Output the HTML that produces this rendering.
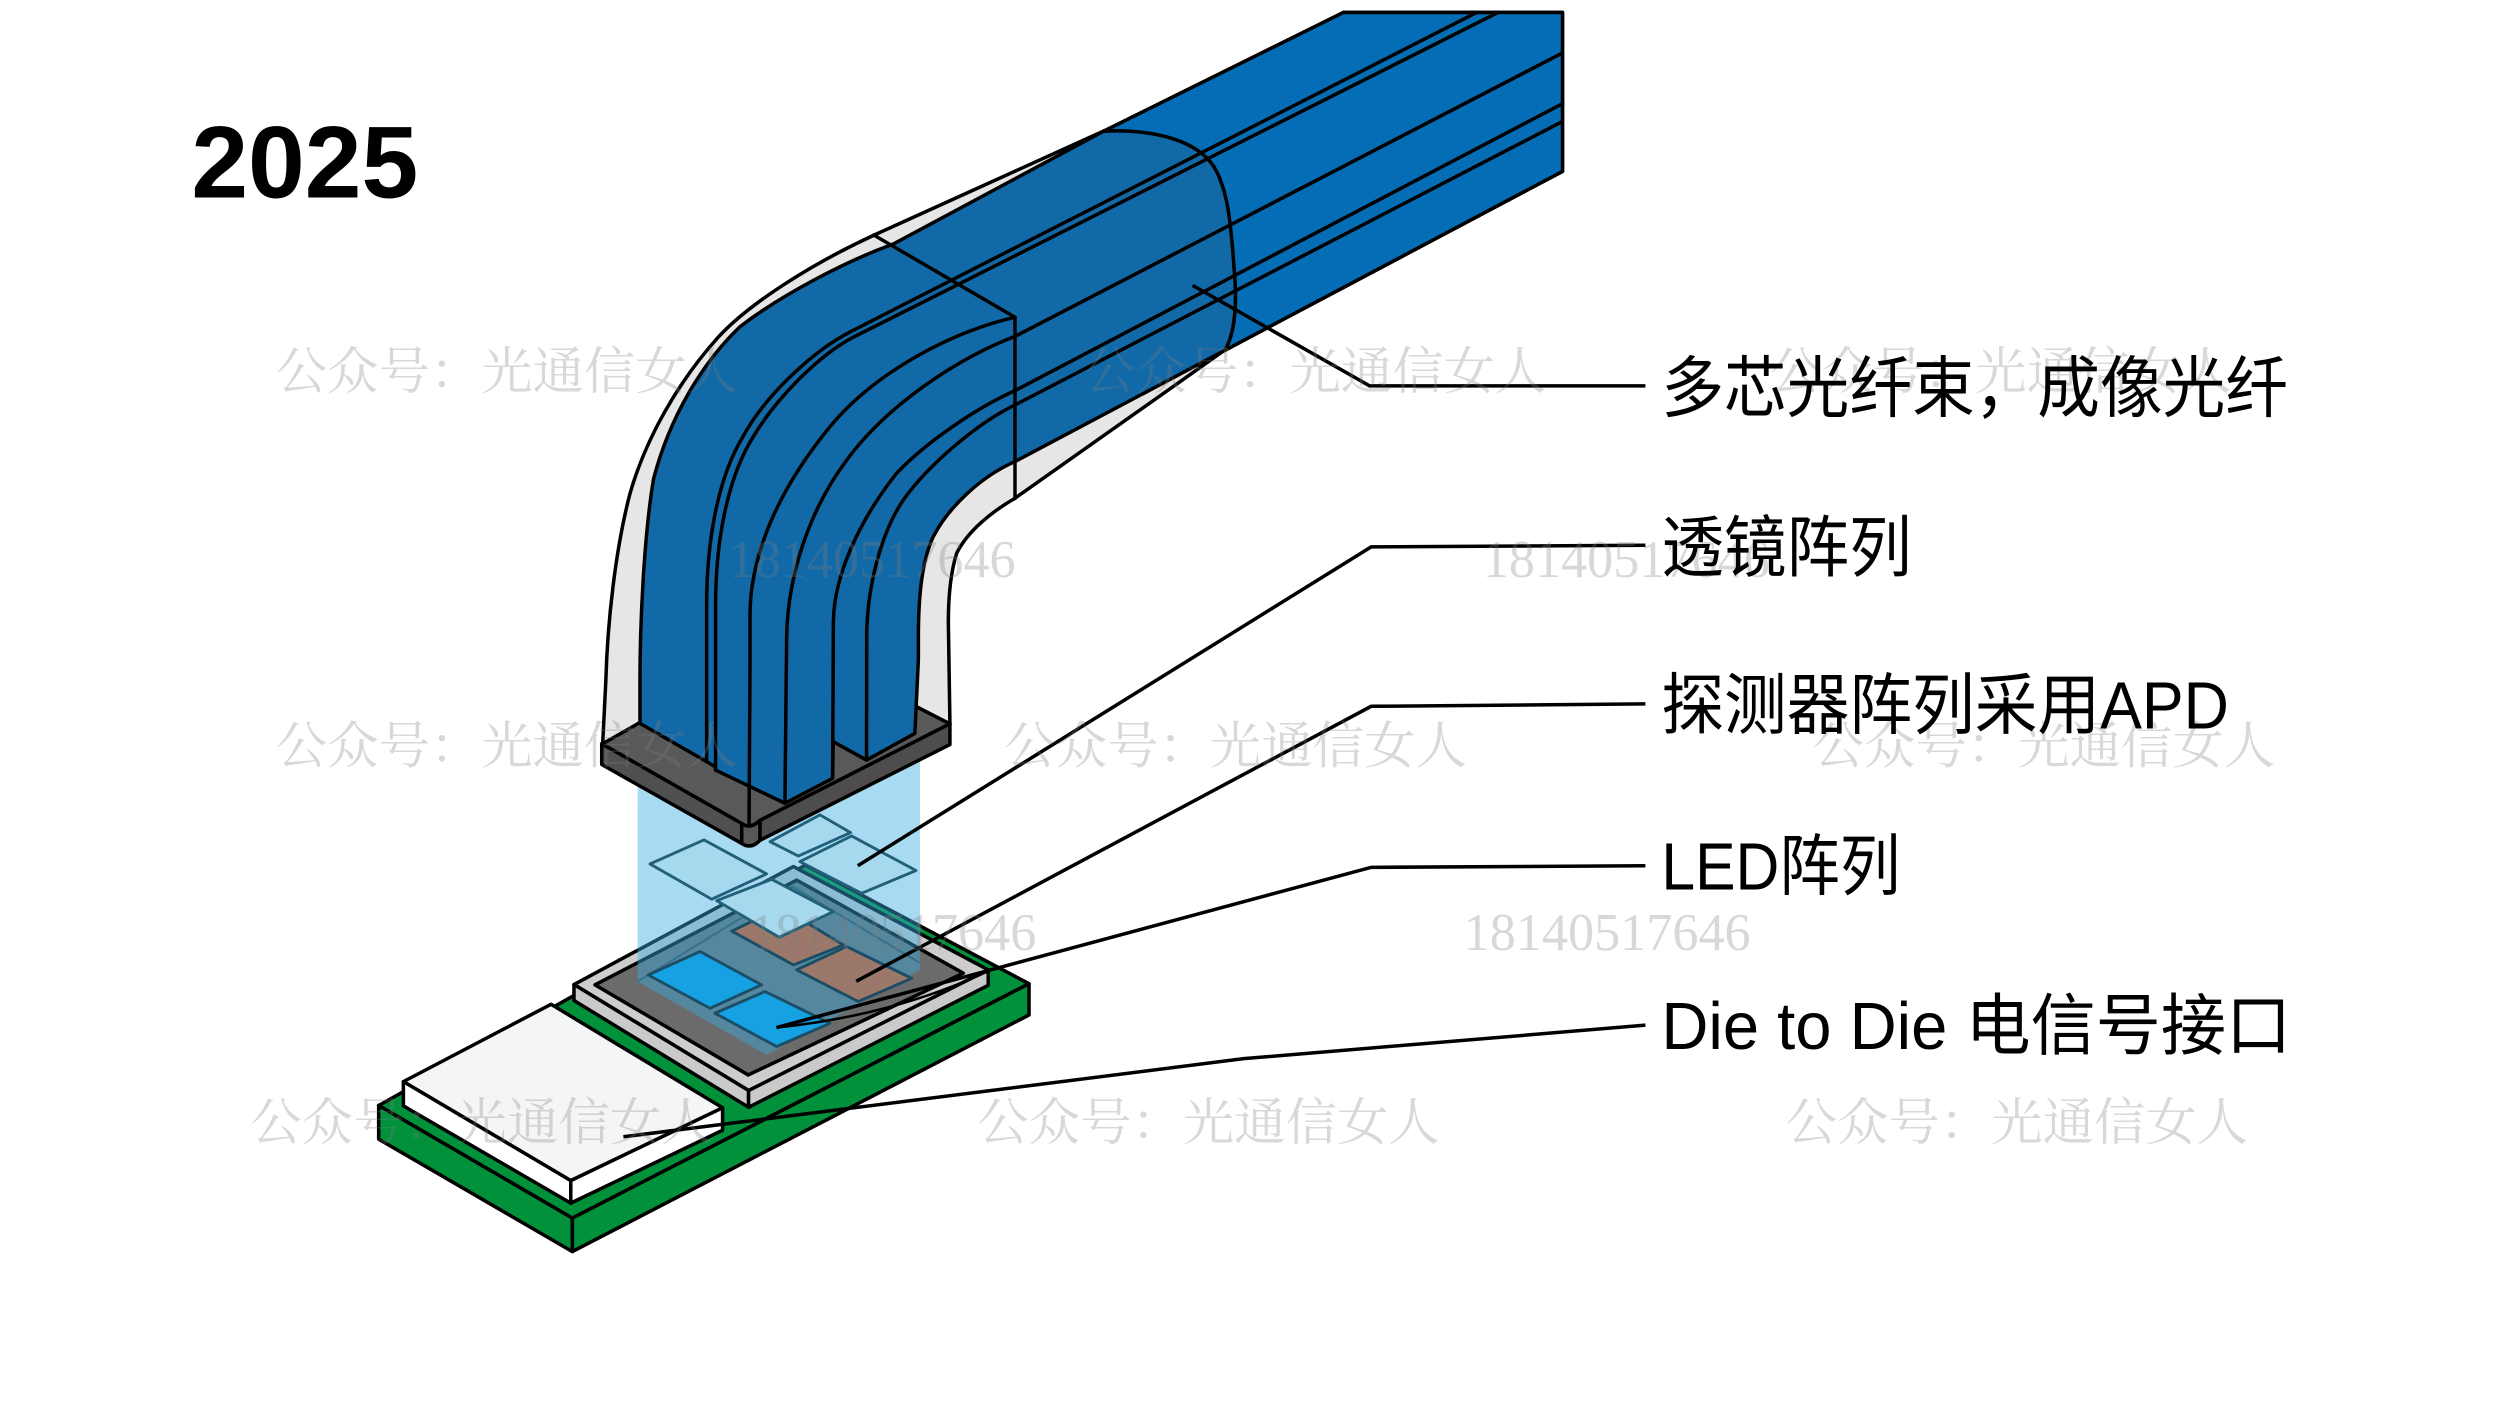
<!DOCTYPE html>
<html><head><meta charset="utf-8">
<style>
html,body{margin:0;padding:0;background:#fff;}
svg{display:block;}
</style></head>
<body>
<svg xmlns="http://www.w3.org/2000/svg" width="2500" height="1406" viewBox="0 0 1568 881.85" preserveAspectRatio="none">
<rect x="0" y="0" width="1568" height="882" fill="#fff"/>

<g stroke="#000" stroke-width="2.2" stroke-linejoin="round">
 <!-- green board -->
 <polygon fill="#00913a" points="237.5,693.4 505,542.6 645.4,617 359,764"/>
 <polygon fill="#00913a" points="237.5,693.4 359,764 359,785 237.5,714.5"/>
 <polygon fill="#00913a" points="359,764 645.4,617 645.4,636.6 359,785"/>
 <!-- white block -->
 <polygon fill="#f4f6f5" points="253,678.4 345.6,629.9 453.2,694.8 358,740.5"/>
 <polygon fill="#ffffff" points="253,678.4 358,740.5 358,754.6 253,693.6"/>
 <polygon fill="#ffffff" points="358,740.5 453.2,694.8 453.2,708.9 358,754.6"/>
 <!-- chip frame -->
 <polygon fill="#cccdcc" points="360,617.5 497.6,543.5 619.8,608.3 469.5,684"/>
 <polygon fill="#c9cac9" points="360,617.5 469.5,684 469.5,694.5 360,627.5"/>
 <polygon fill="#c9cac9" points="469.5,684 619.8,608.3 619.8,618 469.5,694.5"/>
 <polygon fill="#6b6b6b" points="373.2,617.7 499.7,552 604.2,610.4 469.3,674.2"/>
</g>

<!-- light column -->
<polygon fill="rgb(57,171,225)" fill-opacity="0.44" points="400,470 577,470 577,608.3 480.8,661.6 399.8,615.7"/>
<path d="M399.8,615.7 L497,556 L577,604" fill="none" stroke="#2a6a86" stroke-width="1.3" stroke-opacity="0.7"/>

<!-- LED / APD squares -->
<g stroke="#1b4d66" stroke-width="1.8" stroke-linejoin="round">
 <polygon fill="#9b7869" points="459,584 490,569 529,592.7 497.6,605.2"/>
 <polygon fill="#9b7869" points="499.7,608.3 531,593.7 571.8,613.6 538.3,628.2"/>
 <polygon fill="#16a2e2" points="406.6,611.5 439,596.8 477.7,617.7 445.3,632.4"/>
 <polygon fill="#16a2e2" points="448.4,635.5 479.8,621.9 520.6,641.8 487.1,656.4"/>
</g>
<!-- lenses -->
<g stroke="#21607a" stroke-width="1.8" stroke-linejoin="round" fill="#a6d8ee">
 <polygon points="483,527.9 514.3,511.1 533.5,522.2 500.7,536.9"/>
 <polygon points="407.7,541.9 441.5,526.8 480.8,548.1 446.4,564"/>
 <polygon points="501.7,540.4 534.1,524.3 574.5,546 540.4,560.3"/>
 <polygon points="449.5,564.9 484,551.5 522.6,571.8 488.8,587.9"/>
</g>

<!-- dark fiber block -->
<g stroke="#000" stroke-width="2.2" stroke-linejoin="round">
 <path fill="#595959" d="M377.4,466.5 L492.5,401 L595.8,454 L476.7,514.5 Q470.5,520.5 465.2,516.5 Z"/>
 <path fill="#505050" d="M377.4,466.5 L465.2,516.5 L465.2,529 L377.4,479.5 Z"/>
 <path fill="#575757" d="M465.2,516.5 Q470.5,520.5 476.7,514.5 L476.7,527 Q471,533 465.2,529 Z"/>
 <path fill="#4d4d4d" d="M476.7,514.5 L595.8,454 L595.8,467 L476.7,527 Z"/>
</g>

<!-- jacket -->
<path fill="#e6e6e6" stroke="#000" stroke-width="2.2" stroke-linejoin="round"
 d="M692.6,82 L549.2,147 C510,165 470,190 450,212 C425,240 405,275 395,310 C386,345 381,390 380,426.5 L378,466.5 L492.5,401 L595.8,454 L594.8,390 C594.8,375 596,360 600,347 C607,333 622,321 636.6,312.5 L768.3,219.5 C775,208 776,190 774,168 C772,140 770,118 761,104 C750,88 725,82 699,82 Z"/>

<!-- blue bundle -->
<path fill="#1269a8" stroke="#000" stroke-width="2.2" stroke-linejoin="round"
 d="M842.6,7.8 L980,7.8 L980,107.5 L636.6,289.5 C615,299 595,318 585.4,336.5 C578,352 576,375 576,400 L576,414 L573.8,460 L543.5,476.7 L522.6,465.2 L522.2,488.2 L492.3,503.8 L448.8,483 L448.8,481 L443.2,477.7 L401.4,453.7 L401.4,426.5 C401.4,390 404,335 410,300 C420,262 440,228 464,205 C490,185 530,164 560.4,153 L692,82.4 Z"/>
<!-- straight part -->
<path fill="#046db5" stroke="#000" stroke-width="2.2" stroke-linejoin="round"
 d="M842.6,7.8 L980,7.8 L980,107.5 L768.3,219.7 C775,208 776,190 774,168 C772,140 770,118 761,104 C750,88 725,82 699,82 L692,82.4 Z"/>

<!-- fiber lines -->
<g fill="none" stroke="#000" stroke-width="2.2" stroke-linejoin="round" stroke-linecap="round">
 <path d="M548,147.4 L636.6,199 L636.6,312.7"/>
 <path d="M926.2,7.8 L533.5,208 C510,220 480,248 466,273.8 C450,300 443.2,340 443.2,380 L443.2,477.7"/>
 <path d="M939.6,7.8 L535.2,211.5 C515,222 488,248 472.5,273.8 C456,300 448.8,340 448.8,380 L448.8,483"/>
 <path d="M636.6,199 C600,207 550,232 520.6,267.6 C490,305 471,345 470.4,384.6 L470.4,414 L469.8,518"/>
 <path d="M980,33.2 L636.6,211 C600,225 555,255 530,290 C508,320 494,360 493.4,400 L492.3,503.8"/>
 <path d="M980,65 L636.6,245 C612,256 580,278 562.4,296.8 C540,325 523,360 522.7,390 L522.2,488"/>
 <path d="M980,76.2 L636.6,254 C612,266 582,292 566.6,313.5 C552,335 543.6,370 543.6,400 L543.5,476.7"/>
</g>

<!-- leader lines -->
<g fill="none" stroke="#000" stroke-width="2.2" stroke-linejoin="miter">
 <path d="M748,179 L859,242 L1032,242"/>
 <path d="M538,543 L860,343 L1032,342"/>
 <path d="M537,615.5 L860,443 L1032,441.5"/>
 <path d="M487,644.5 L860,544 L1032,543"/>
 <path d="M487,644.5 Q560,637 620,609" stroke-width="1.6"/>
 <path d="M391,713 L780,664 L1032,643"/>
</g>

<!-- watermarks -->
<g fill="#7f7f7f" fill-opacity="0.3" font-family="'Liberation Serif','Noto Serif CJK SC',serif" font-size="32">
 <text x="173" y="244" textLength="290" lengthAdjust="spacingAndGlyphs">公众号：光通信女人</text>
 <text x="680" y="244" textLength="290" lengthAdjust="spacingAndGlyphs">公众号：光通信女人</text>
 <text x="1110" y="244" textLength="290" lengthAdjust="spacingAndGlyphs">公众号：光通信女人</text>
 <text x="173" y="479" textLength="290" lengthAdjust="spacingAndGlyphs">公众号：光通信女人</text>
 <text x="630" y="479" textLength="290" lengthAdjust="spacingAndGlyphs">公众号：光通信女人</text>
 <text x="1137" y="479" textLength="290" lengthAdjust="spacingAndGlyphs">公众号：光通信女人</text>
 <text x="157" y="715" textLength="290" lengthAdjust="spacingAndGlyphs">公众号：光通信女人</text>
 <text x="613" y="715" textLength="290" lengthAdjust="spacingAndGlyphs">公众号：光通信女人</text>
 <text x="1120" y="715" textLength="290" lengthAdjust="spacingAndGlyphs">公众号：光通信女人</text>
 <text x="457" y="362" font-size="33" textLength="180" lengthAdjust="spacingAndGlyphs">18140517646</text>
 <text x="930" y="362" font-size="33" textLength="180" lengthAdjust="spacingAndGlyphs">18140517646</text>
 <text x="470" y="596" font-size="33" textLength="180" lengthAdjust="spacingAndGlyphs">18140517646</text>
 <text x="918" y="596" font-size="33" textLength="180" lengthAdjust="spacingAndGlyphs">18140517646</text>
</g>

<!-- labels -->
<g fill="#000" font-family="'Liberation Sans','Noto Sans CJK SC',sans-serif" font-size="42">
 <text x="1042" y="258" textLength="393" lengthAdjust="spacingAndGlyphs">多芯光纤束，成像光纤</text>
 <text x="1042" y="358" textLength="157" lengthAdjust="spacingAndGlyphs">透镜阵列</text>
 <text x="1042" y="457" textLength="356" lengthAdjust="spacingAndGlyphs">探测器阵列采用APD</text>
 <text x="1042" y="558" textLength="150" lengthAdjust="spacingAndGlyphs">LED阵列</text>
 <text x="1042" y="658" textLength="395" lengthAdjust="spacingAndGlyphs">Die to Die 电信号接口</text>
</g>

<text x="120" y="124" font-family="'Liberation Sans',sans-serif" font-weight="bold" font-size="64" fill="#000">2025</text>
</svg>
</body>
</html>
